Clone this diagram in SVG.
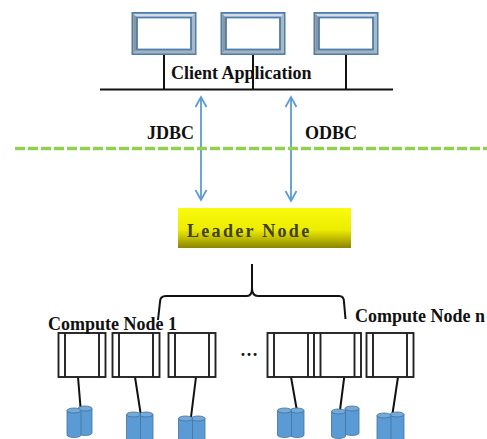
<svg xmlns="http://www.w3.org/2000/svg" width="487" height="439" viewBox="0 0 487 439">
<defs>
<linearGradient id="gold" x1="0" y1="0" x2="0" y2="1"><stop offset="0" stop-color="#fbfb10"/><stop offset="0.55" stop-color="#ecec00"/><stop offset="1" stop-color="#8c8400"/></linearGradient>
<marker id="open" markerWidth="14" markerHeight="14" refX="11" refY="6" orient="auto-start-reverse" markerUnits="userSpaceOnUse" viewBox="0 0 14 12"><path d="M1 0.500L11 6L1 11.500" fill="none" stroke="#5b9bd5" stroke-width="1.800"/></marker>
<g id="mon">
<rect x="0" y="0" width="65" height="43" fill="#4a7fb0"/>
<rect x="1.800" y="1.800" width="61.400" height="39.400" fill="#d3dbe3"/>
<path d="M1.800 1.800L6 6V37L1.800 41.200Z" fill="#8f959b"/>
<path d="M63.200 1.800L59 6V37L63.200 41.200Z" fill="#aeb6be"/>
<path d="M1.800 41.200L6 37H59L63.200 41.200Z" fill="#a9b0b8"/>
<rect x="5.500" y="5.500" width="54" height="32" fill="#fff" stroke="#4a7fb0" stroke-width="1.800"/>
</g>
<g id="box">
<rect x="0" y="0" width="47" height="44" fill="#fff" stroke="#222" stroke-width="1.900"/>
<path d="M6.500 0V44M40.500 0V44" fill="none" stroke="#222" stroke-width="1.900"/>
</g>
<g id="cyl">
<path d="M0 2.500V27A7 2.500 0 0 0 14 27V2.500Z" fill="#5b9bd5" stroke="#41719c" stroke-width="0.800"/>
<ellipse cx="7" cy="2.500" rx="7" ry="2.500" fill="#74a9d8" stroke="#41719c" stroke-width="0.800"/>
</g>
<style>
.lbl{font-family:"Liberation Serif",serif;font-weight:700;font-size:18px;fill:#111}
.wire{stroke:#111;stroke-width:2;fill:none}
</style>
</defs>
<g id="connectors">
<path class="wire" d="M164 55V89M253 55V89M346 55V89"/>
<path d="M100 89.500H393" stroke="#111" stroke-width="2.200" fill="none"/>
<path d="M201 97V200" stroke="#5b9bd5" stroke-width="1.800" marker-start="url(#open)" marker-end="url(#open)"/>
<path d="M291 97V201" stroke="#5b9bd5" stroke-width="1.800" marker-start="url(#open)" marker-end="url(#open)"/>
<path d="M15 148.500H487" stroke="#92d050" stroke-width="3.400" stroke-dasharray="10 3" fill="none"/>
<path class="wire" d="M252 264V288Q252 296 247 296H166Q160 296 160 302L158 320M252 288Q252 296 258 296H339Q344 296 344 302L345.500 319"/>
<path class="wire" d="M78 377L80.500 407M135 377L141 416M196 377L191 417M291 377L297 411M344.500 375L339.500 414M398 377L392 417"/>
</g>
<g id="client-1"><use href="#mon" x="131.500" y="12"/></g>
<g id="client-2"><use href="#mon" x="220.500" y="12"/></g>
<g id="client-3"><use href="#mon" x="313.500" y="12"/></g>
<g id="client-label"><text class="lbl" x="171" y="79">Client Application</text></g>
<text class="lbl" x="147" y="139">JDBC</text>
<text class="lbl" x="305" y="139">ODBC</text>
<g id="leader">
<rect x="178" y="208" width="173" height="40" fill="url(#gold)"/>
<text x="187" y="237" font-family="Liberation Serif, serif" font-weight="700" font-size="18" letter-spacing="2.300" fill="#403f28">Leader Node</text>
</g>
<g id="compute-1"><use href="#box" x="58.500" y="333"/></g>
<g id="compute-2"><use href="#box" x="112.500" y="333"/></g>
<g id="compute-3"><use href="#box" x="168.500" y="333"/></g>
<g id="compute-4"><use href="#box" x="267.500" y="333"/></g>
<g id="compute-5"><use href="#box" x="314" y="333"/></g>
<g id="compute-6"><use href="#box" x="366.500" y="333"/></g>
<text class="lbl" x="240" y="356">…</text>
<text class="lbl" x="48" y="330">Compute Node 1</text>
<text class="lbl" x="355" y="322">Compute Node n</text>
<g id="disks-1"><use href="#cyl" x="78" y="406"/><use href="#cyl" x="67" y="408"/></g>
<g id="disks-2"><use href="#cyl" x="139" y="412"/><use href="#cyl" x="126.500" y="412"/></g>
<g id="disks-3"><use href="#cyl" x="191" y="416"/><use href="#cyl" x="178.500" y="416"/></g>
<g id="disks-4"><use href="#cyl" x="290" y="408"/><use href="#cyl" x="277.500" y="408"/></g>
<g id="disks-5"><use href="#cyl" x="345" y="406"/><use href="#cyl" x="331.500" y="409"/></g>
<g id="disks-6"><use href="#cyl" x="390" y="412"/><use href="#cyl" x="377" y="413"/></g>
</svg>
